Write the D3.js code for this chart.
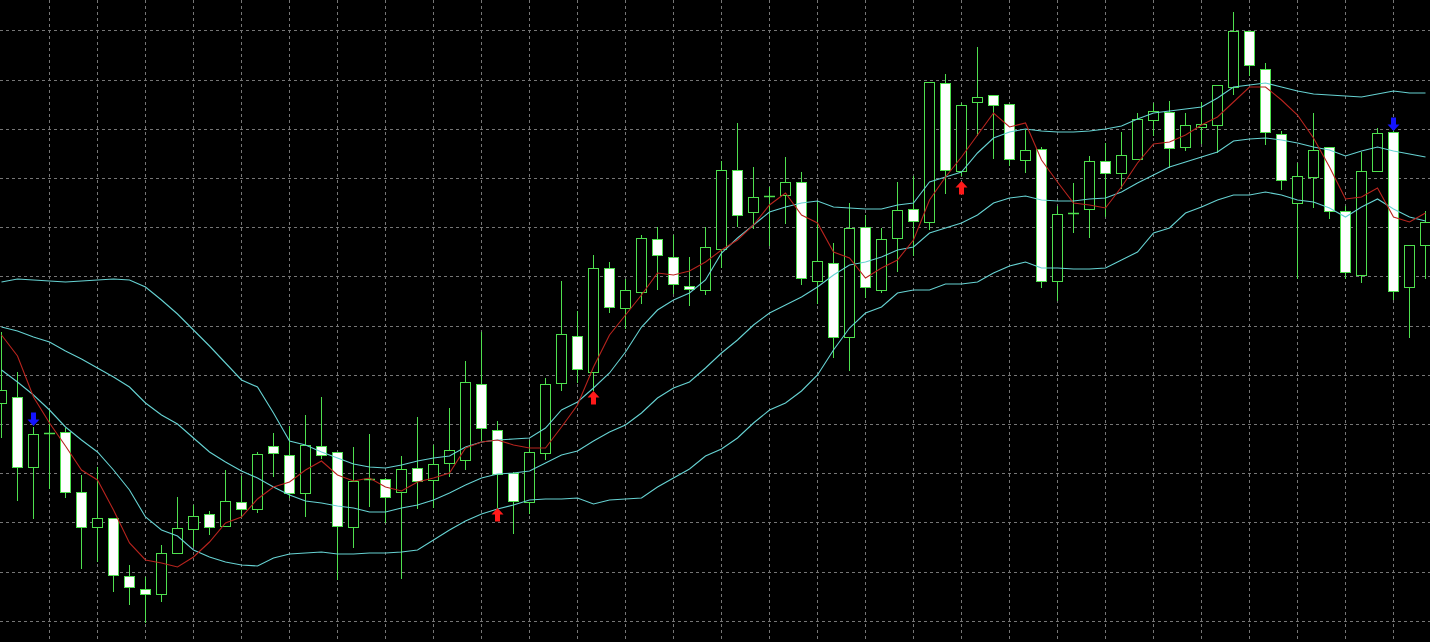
<!DOCTYPE html>
<html><head><meta charset="utf-8">
<script src="https://cdn.jsdelivr.net/npm/d3@7"></script>
<style>html,body{margin:0;padding:0;background:#000;overflow:hidden}</style>
</head><body><svg id="c" width="1430" height="642"></svg>
<script>
// ---- data (price units) ----
const opens=[297,303,233,267,268,208,173,182,124,111,
106,147,171,186,174,198,191,254,245,207,
254,248,173,221,221,208,232,220,237,240,
316,270,227,198,247,317,364,328,432,392,
408,461,443,414,410,451,530,488,504,505,
518,419,437,363,473,410,462,491,478,617,
529,598,605,596,540,551,419,487,491,539,
527,541,580,588,553,573,575,613,669,631,
566,497,523,553,489,425,529,568,413,455];
const highs=[368,328,273,291,272,225,233,182,135,123,
155,203,195,189,230,224,248,267,274,285,
303,248,253,266,222,244,283,255,292,339,
368,279,228,260,322,419,389,445,438,421,
465,473,465,443,473,539,577,533,513,543,
528,499,457,497,485,472,518,524,618,626,
597,653,605,596,570,553,494,517,544,557,
568,587,597,599,587,598,615,688,669,637,
569,537,587,553,494,548,572,570,455,489];
const lows=[263,200,182,212,203,132,139,109,96,78,
99,147,154,166,174,183,188,224,203,184,
242,121,153,194,178,122,192,193,224,231,
260,193,167,187,241,310,318,310,388,372,
397,411,407,395,406,433,474,472,455,477,
416,397,343,330,403,408,429,445,471,507,
525,565,542,535,528,413,400,468,463,484,
512,541,565,533,550,557,548,606,625,556,
511,422,493,482,422,418,529,401,363,422];
const closes=[310,233,266,267,208,173,182,125,113,106,
147,172,184,173,199,191,246,247,207,255,
245,174,219,221,203,231,219,236,250,318,
272,226,199,248,316,366,331,432,393,410,
462,445,416,411,453,530,485,503,504,518,
422,439,363,472,413,461,490,479,618,530,
595,603,595,541,550,419,486,487,539,527,
545,581,589,552,575,576,615,669,635,568,
520,524,550,489,428,529,567,409,455,478];
const upperBand=[418,421,420,419,418,419,420,421,420,413,
400,386,370,354,337,320,313,287,259,255,
248,242,236,233,232,235,239,242,244,253,
258,260,261,262,272,290,298,312,327,348,
373,390,400,407,420,447,462,475,488,493,
497,499,493,492,491,491,495,497,518,523,
528,547,562,568,571,569,568,568,569,571,
574,581,587,589,591,593,602,613,615,617,
613,609,606,605,604,603,606,609,607,607];
const middleBand=[373,369,363,358,349,341,332,323,313,297,
285,276,262,248,238,229,222,213,205,199,
197,194,192,188,188,192,195,200,207,215,
222,226,227,229,237,245,249,259,268,275,
287,302,312,318,332,347,360,375,387,395,
403,413,425,435,438,443,450,453,467,472,
477,485,497,502,504,500,499,499,501,502,
508,517,525,533,538,543,548,559,561,562,
560,557,553,550,544,549,553,549,546,543];
const lowerBand=[330,318,305,290,273,260,248,230,210,183,
170,164,150,143,138,135,134,142,146,147,
148,146,146,147,147,148,150,160,170,179,
186,191,195,200,201,201,202,196,200,201,
202,213,222,231,244,251,262,277,290,297,
309,325,350,372,387,393,407,410,410,416,
416,418,427,434,438,432,432,431,431,432,
440,448,467,472,487,493,500,505,505,508,
505,500,498,492,483,493,501,491,483,479];
const maLine=[365,344,303,277,254,230,220,190,157,140,
137,133,143,158,177,183,201,213,218,230,
239,225,219,222,213,209,218,222,227,252,
258,260,255,252,252,273,295,333,365,385,
405,427,425,429,438,450,460,475,495,507,
485,477,448,442,422,432,440,460,500,523,
543,565,587,573,577,540,518,497,495,492,
513,537,556,558,565,575,583,598,613,613,
600,585,562,533,501,503,512,483,478,487];
const gridPrices=[669.7,620.5,571.3,522.1,472.9,423.7,374.5,325.3,276.1,226.9,177.7,128.5,79.3];
const buyIdx=[31,37,60], buyLevel=[192,309,519];
const sellIdx=[2,87], sellLevel=[274,569];

// ---- chart ----
const W=1430,H=642;
const svg=d3.select('#c');
svg.append('rect').attr('width',W).attr('height',H).attr('fill','#000');
const x=d3.scaleLinear().domain([0,89]).range([1.3,1425.3]);
const y=d3.scaleLinear().domain([58,700]).range([642,0]);
const cx=i=>Math.round(x(i));
const py=v=>Math.round(y(v))+0.5;

const GREEN='#4ee04e', GRID='#767676', CYAN='#66d2d2', RED='#b8241e';

// grid
const g=svg.append('g');
g.selectAll('line.h').data(gridPrices).join('line').attr('class','h')
 .attr('x1',0).attr('x2',W).attr('y1',d=>py(d)).attr('y2',d=>py(d))
 .attr('stroke',GRID).attr('stroke-width',1).attr('stroke-dasharray','3,3');
g.selectAll('line.v').data(d3.range(3,90,3)).join('line').attr('class','v')
 .attr('x1',d=>cx(d)+0.5).attr('x2',d=>cx(d)+0.5).attr('y1',0).attr('y2',H)
 .attr('stroke',GRID).attr('stroke-width',1).attr('stroke-dasharray','3,3');

// candles
const idx=d3.range(opens.length);
const cg=svg.append('g');
cg.selectAll('line.w').data(idx).join('line').attr('class','w')
 .attr('x1',i=>cx(i)+0.5).attr('x2',i=>cx(i)+0.5)
 .attr('y1',i=>py(highs[i])-0.5).attr('y2',i=>py(lows[i])+0.5)
 .attr('stroke',GREEN).attr('stroke-width',1);
const bodies=idx.filter(i=>Math.abs(py(opens[i])-py(closes[i]))>=1);
cg.selectAll('rect.b').data(bodies).join('rect').attr('class','b')
 .attr('x',i=>cx(i)-4.5).attr('width',10)
 .attr('y',i=>py(Math.max(opens[i],closes[i])))
 .attr('height',i=>py(Math.min(opens[i],closes[i]))-py(Math.max(opens[i],closes[i])))
 .attr('fill',i=>closes[i]>=opens[i]?'#000':'#fff')
 .attr('stroke',GREEN).attr('stroke-width',1);
const dojis=idx.filter(i=>Math.abs(py(opens[i])-py(closes[i]))<1);
cg.selectAll('line.d').data(dojis).join('line').attr('class','d')
 .attr('x1',i=>cx(i)-5).attr('x2',i=>cx(i)+6)
 .attr('y1',i=>py(closes[i])).attr('y2',i=>py(closes[i]))
 .attr('stroke',GREEN).attr('stroke-width',1.5);

// indicator lines
const line=d3.line().x((d,i)=>x(i)+0.2).y(d=>y(d));
[[upperBand,CYAN],[middleBand,CYAN],[lowerBand,CYAN],[maLine,RED]].forEach(([arr,col])=>{
  svg.append('path').datum(arr).attr('d',line).attr('fill','none')
   .attr('stroke',col).attr('stroke-width',1.1);
});

// arrows
const arrowPath='M0,0 L6,6.5 L2.5,6.5 L2.5,13.5 L-2.5,13.5 L-2.5,6.5 L-6,6.5 Z';
svg.append('g').selectAll('path').data(buyIdx.map((d,k)=>[d,buyLevel[k]])).join('path')
 .attr('d',arrowPath).attr('fill','#ff1a1a')
 .attr('transform',d=>`translate(${cx(d[0])+0.5},${y(d[1])})`);
svg.append('g').selectAll('path').data(sellIdx.map((d,k)=>[d,sellLevel[k]])).join('path')
 .attr('d',arrowPath).attr('fill','#1414ff')
 .attr('transform',d=>`translate(${cx(d[0])+0.5},${y(d[1])}) scale(1,-1)`);
</script></body></html>
